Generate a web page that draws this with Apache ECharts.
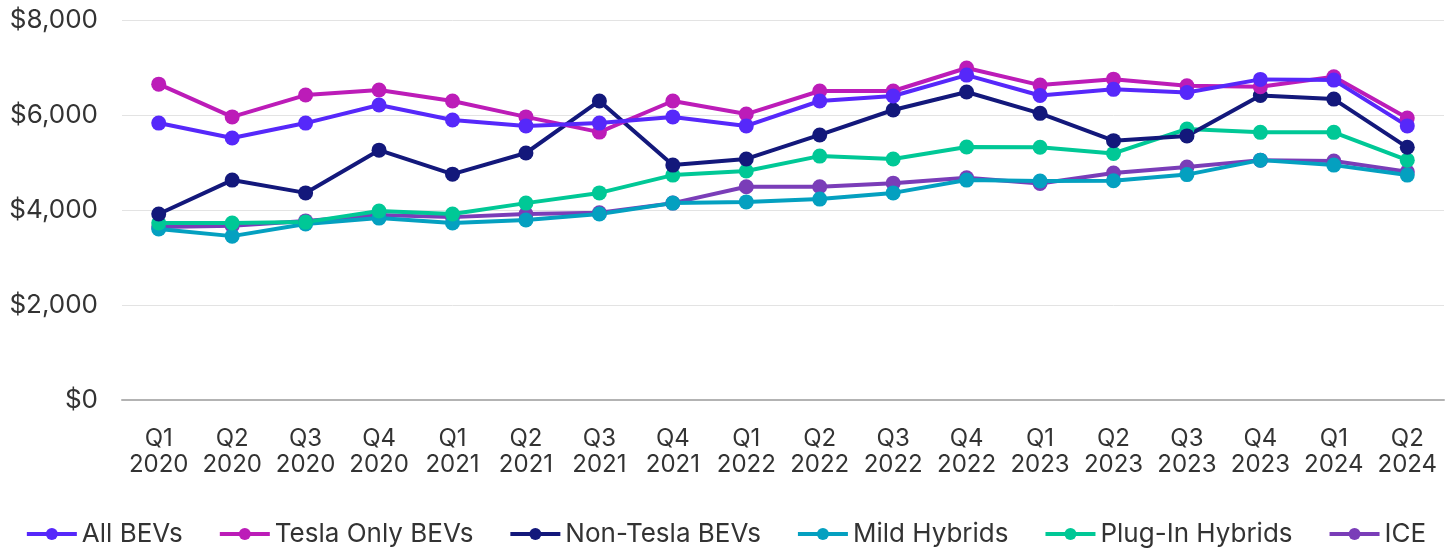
<!DOCTYPE html>
<html>
<head>
<meta charset="utf-8">
<script src="https://cdn.jsdelivr.net/npm/echarts@6/dist/echarts.min.js"></script>
<style>
  html, body { margin: 0; padding: 0; background: #fff; }
  #chart { width: 1451px; height: 552px; }
</style>
</head>
<body>
<div id="chart"></div>
<script>
var quarters = ['Q1\n2020', 'Q2\n2020', 'Q3\n2020', 'Q4\n2020', 'Q1\n2021', 'Q2\n2021', 'Q3\n2021', 'Q4\n2021',
  'Q1\n2022', 'Q2\n2022', 'Q3\n2022', 'Q4\n2022', 'Q1\n2023', 'Q2\n2023', 'Q3\n2023', 'Q4\n2023', 'Q1\n2024', 'Q2\n2024'];

var allBevs = [5830, 5515, 5830, 6210, 5895, 5770, 5830, 5960, 5770, 6295, 6400, 6840, 6410, 6540, 6475, 6750, 6735, 5770];
var teslaBevs = [6650, 5960, 6420, 6525, 6295, 5960, 5640, 6295, 6020, 6505, 6505, 6990, 6630, 6755, 6615, 6595, 6805, 5935];
var nonTeslaBevs = [3915, 4630, 4360, 5260, 4755, 5200, 6295, 4945, 5075, 5580, 6105, 6485, 6035, 5460, 5560, 6410, 6335, 5320];
var mildHybrids = [3600, 3450, 3705, 3830, 3725, 3790, 3915, 4145, 4170, 4230, 4360, 4630, 4610, 4615, 4745, 5050, 4945, 4735];
var plugInHybrids = [3725, 3725, 3745, 3980, 3915, 4145, 4360, 4735, 4820, 5135, 5075, 5325, 5320, 5190, 5705, 5635, 5635, 5050];
var ice = [3640, 3670, 3770, 3895, 3850, 3915, 3940, 4145, 4490, 4490, 4565, 4680, 4560, 4780, 4905, 5050, 5030, 4805];

var yTicks = [0, 2000, 4000, 6000, 8000];

var seriesDefs = [
  { name: 'All BEVs', data: allBevs, color: '#5628FA' },
  { name: 'Tesla Only BEVs', data: teslaBevs, color: '#BC1CB8' },
  { name: 'Non-Tesla BEVs', data: nonTeslaBevs, color: '#13187B' },
  { name: 'Mild Hybrids', data: mildHybrids, color: '#04A0C0' },
  { name: 'Plug-In Hybrids', data: plugInHybrids, color: '#00C896' },
  { name: 'ICE', data: ice, color: '#7A3DB8' }
];

// draw order: lower lines underneath
var drawOrder = ['ICE', 'Mild Hybrids', 'Plug-In Hybrids', 'Non-Tesla BEVs', 'Tesla Only BEVs', 'All BEVs'];

var chart = echarts.init(document.getElementById('chart'));
var font = 'Inter, "Noto Sans", sans-serif';

chart.setOption({
  animation: false,
  textStyle: { fontFamily: font },
  grid: { left: 122, right: 7, top: 20, bottom: 152 },
  legend: {
    bottom: 0,
    left: 'center',
    itemWidth: 50,
    itemHeight: 15,
    itemGap: 35,
    itemStyle: {},
    lineStyle: { width: 4 },
    textStyle: { fontSize: 26, color: '#333', fontFamily: font },
    data: seriesDefs.map(function (s) { return s.name; })
  },
  xAxis: {
    type: 'category',
    data: quarters,
    axisTick: { show: false },
    axisLine: { lineStyle: { color: '#b3b3b3', width: 2 } },
    axisLabel: { fontSize: 24, color: '#333', lineHeight: 26, margin: 26, interval: 0 }
  },
  yAxis: {
    type: 'value',
    min: yTicks[0],
    max: yTicks[yTicks.length - 1],
    interval: 2000,
    axisLine: { show: false },
    axisTick: { show: false },
    splitLine: { lineStyle: { color: '#e3e3e3', width: 1 } },
    axisLabel: {
      fontSize: 26,
      color: '#333',
      margin: 24,
      formatter: function (v) { return '$' + v.toLocaleString('en-US'); }
    }
  },
  series: drawOrder.map(function (n) {
    var s = seriesDefs.filter(function (d) { return d.name === n; })[0];
    return {
      name: s.name,
      type: 'line',
      data: s.data,
      symbol: 'circle',
      symbolSize: 15,
      showSymbol: true,
      lineStyle: { width: 4, color: s.color },
      itemStyle: { color: s.color }
    };
  })
});
</script>
</body>
</html>
